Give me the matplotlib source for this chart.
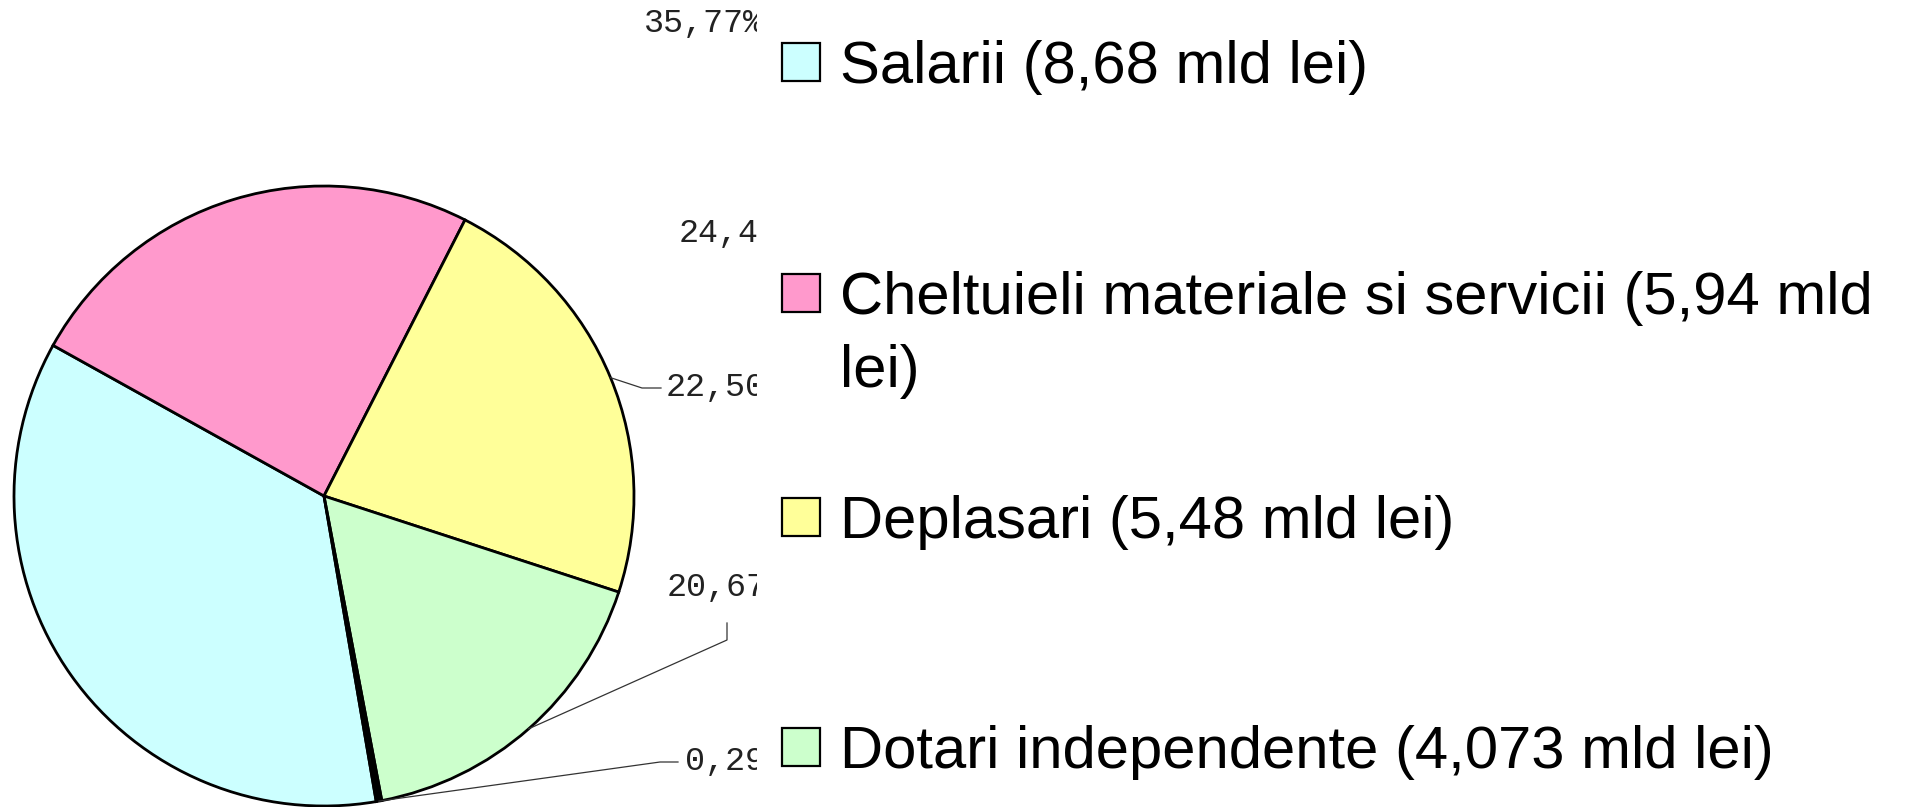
import numpy as np
import matplotlib
matplotlib.use("Agg")
import matplotlib.pyplot as plt
from matplotlib.patches import Rectangle
from matplotlib.transforms import Bbox

# --- données ---
categories = ["Salarii", "Cheltuieli materiale si servicii", "Deplasari",
              "Dotari independente", "Altele"]
parts = [35.77, 24.44, 22.50, 17.00, 0.29]
etiquettes = ["35,77%", "24,44%", "22,50%", "20,67%", "0,29%"]
legende = ["Salarii (8,68 mld lei)",
           "Cheltuieli materiale si servicii (5,94 mld\nlei)",
           "Deplasari (5,48 mld lei)",
           "Dotari independente (4,073 mld lei)"]
couleurs = ["#CCFFFF", "#FF99CC", "#FFFF99", "#CCFFCC", "#000000"]

W, H = 1915, 807
fig = plt.figure(figsize=(W / 100, H / 100), dpi=100)

# centre et rayon du camembert en pixels
cx, cy, r = 324, 496, 310
ax = fig.add_axes([(cx - r) / W, (H - cy - r) / H, 2 * r / W, 2 * r / H])
wedges, _ = ax.pie(parts, colors=couleurs, startangle=279.7, counterclock=False,
                   wedgeprops=dict(edgecolor="black", linewidth=2.0))
ax.set_xlim(-1, 1)
ax.set_ylim(-1, 1)
ax.set_aspect("equal")
ax.axis("off")
for w in wedges:
    w.set_clip_on(False)


def px(x, y):
    # pixels de l'image -> coordonnées du camembert
    return (x - cx) / r, (cy - y) / r


# positions des étiquettes (gauche, centre vertical) et coudes des traits
pos_etiq = [(644, 24), (679, 233), (666, 387), (667, 588), (685, 762)]
coudes = [None, None, [(642, 388), (661, 388)], [(727, 640), (727, 623)],
          [(660, 762), (678, 762)]]

clip = Bbox([[0, 0], [757, H]])
for i, (txt, (x, y)) in enumerate(zip(etiquettes, pos_etiq)):
    t = ax.text(*px(x, y), txt, ha="left", va="center", fontsize=24,
                family="Liberation Mono", color="#222222", clip_on=True)
    t.set_clip_box(clip)
    if coudes[i] is not None:
        w = wedges[i]
        mid = np.deg2rad((w.theta1 + w.theta2) / 2)
        xs = [np.cos(mid)] + [px(a, b)[0] for a, b in coudes[i]]
        ys = [np.sin(mid)] + [px(a, b)[1] for a, b in coudes[i]]
        ax.plot(xs, ys, color="#333333", lw=0.9, clip_on=False)

# --- légende ---
y_carres = [62, 293, 517, 747]
interligne = 73
for lab, col, yc in zip(legende, couleurs, y_carres):
    fig.add_artist(Rectangle((782 / W, (H - yc - 19) / H), 38 / W, 38 / H,
                             facecolor=col, edgecolor="black", linewidth=1.6,
                             transform=fig.transFigure))
    for k, ligne in enumerate(lab.split("\n")):
        fig.text(840 / W, (H - yc - 21 - k * interligne) / H, ligne,
                 ha="left", va="baseline", fontsize=43,
                 family="Liberation Sans")

fig.savefig("out.png", dpi=100, facecolor="white")
